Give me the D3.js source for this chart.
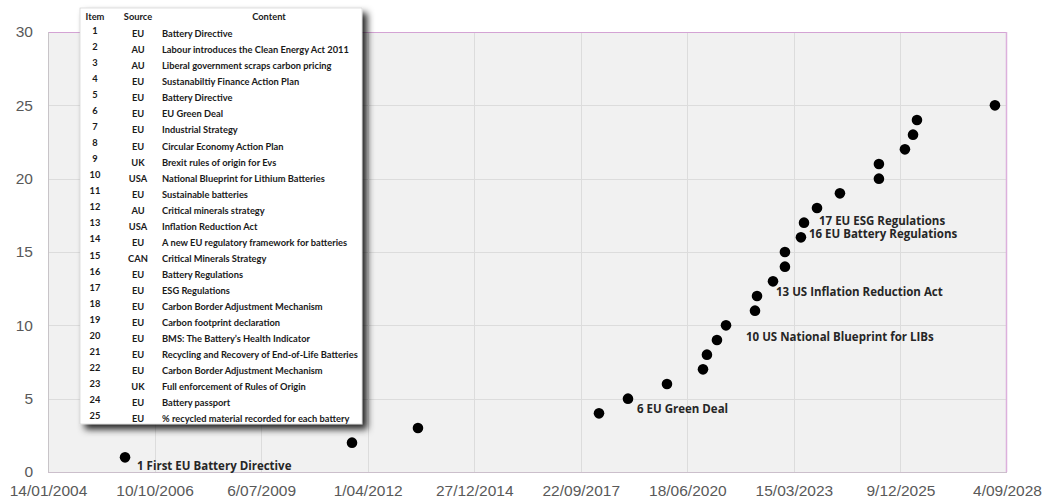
<!DOCTYPE html>
<html>
<head>
<meta charset="utf-8">
<script src="https://cdn.jsdelivr.net/npm/d3@7/dist/d3.min.js"></script>
<style>
  html, body { margin: 0; padding: 0; background: #ffffff; }
  svg { display: block; }
</style>
</head>
<body>
<svg id="chart" width="1047" height="500"></svg>
<script>
// Policy timeline: cumulative count of battery / climate policy events
const items = [1, 2, 3, 4, 5, 6, 7, 8, 9, 10, 11, 12, 13, 14, 15, 16, 17, 18, 19, 20, 21, 22, 23, 24, 25];
const sources = ["EU", "AU", "AU", "EU", "EU", "EU", "EU", "EU", "UK", "USA", "EU", "AU", "USA", "EU", "CAN",
                 "EU", "EU", "EU", "EU", "EU", "EU", "EU", "UK", "EU", "EU"];
const contents = [
  "Battery Directive",
  "Labour introduces the Clean Energy Act 2011",
  "Liberal government scraps carbon pricing",
  "Sustanabiltiy Finance Action Plan",
  "Battery Directive",
  "EU Green Deal",
  "Industrial Strategy",
  "Circular Economy Action Plan",
  "Brexit rules of origin for Evs",
  "National Blueprint for Lithium Batteries",
  "Sustainable batteries",
  "Critical minerals strategy",
  "Inflation Reduction Act",
  "A new EU regulatory framework for batteries",
  "Critical Minerals Strategy",
  "Battery Regulations",
  "ESG Regulations",
  "Carbon Border Adjustment Mechanism",
  "Carbon footprint declaration",
  "BMS: The Battery\u2019s Health Indicator",
  "Recycling and Recovery of End-of-Life Batteries",
  "Carbon Border Adjustment Mechanism",
  "Full enforcement of Rules of Origin",
  "Battery passport",
  "% recycled material recorded for each battery"
];
const eventDates = [
  "2006-01-06", "2011-11-06", "2013-07-17", "2018-03-12", "2018-12-09",
  "2019-12-10", "2020-11-12", "2020-12-19", "2021-03-23", "2021-06-16",
  "2022-03-15", "2022-04-03", "2022-08-31", "2022-12-21", "2022-12-21",
  "2023-05-20", "2023-06-18", "2023-10-18", "2024-05-20", "2025-05-21",
  "2025-05-21", "2026-01-20", "2026-04-06", "2026-05-13", "2028-05-14"
];
const eventCounts = [1, 2, 3, 4, 5, 6, 7, 8, 9, 10, 11, 12, 13, 14, 15, 16, 17, 18, 19, 20, 21, 22, 23, 24, 25];

const annotatedItems = [1, 6, 10, 13, 16, 17];
const annotationTexts = [
  "1 First EU Battery Directive",
  "6 EU Green Deal",
  "10 US National Blueprint for LIBs",
  "13 US Inflation Reduction Act",
  "16 EU Battery Regulations",
  "17 EU ESG Regulations"
];

const xTickLabels = ["14/01/2004", "10/10/2006", "6/07/2009", "1/04/2012", "27/12/2014",
                     "22/09/2017", "18/06/2020", "15/03/2023", "9/12/2025", "4/09/2028"];
const yTicks = [0, 5, 10, 15, 20, 25, 30];

// ---- layout ----
const plot = { left: 48, right: 1007, top: 32, bottom: 472 };
const parseTick = d3.utcParse("%d/%m/%Y");
const parseIso = d3.utcParse("%Y-%m-%d");
const tickDates = xTickLabels.map(parseTick);

const x = d3.scaleUtc()
  .domain([tickDates[0], tickDates[tickDates.length - 1]])
  .range([plot.left, plot.right]);
const y = d3.scaleLinear()
  .domain([0, 30])
  .range([plot.bottom, plot.top]);

const svg = d3.select("#chart");

// plot background
svg.append("rect")
  .attr("x", plot.left).attr("y", plot.top)
  .attr("width", plot.right - plot.left).attr("height", plot.bottom - plot.top)
  .attr("fill", "#f1f1f1");

// gridlines
const grid = svg.append("g").attr("stroke", "#dcdcdc").attr("stroke-width", 1);
grid.selectAll("line.v").data(tickDates.slice(1, -1)).join("line")
  .attr("x1", d => Math.round(x(d)) + 0.5).attr("x2", d => Math.round(x(d)) + 0.5)
  .attr("y1", plot.top).attr("y2", plot.bottom);
grid.selectAll("line.h").data(yTicks.slice(1, -1)).join("line")
  .attr("x1", plot.left).attr("x2", plot.right)
  .attr("y1", d => Math.round(y(d)) + 0.5).attr("y2", d => Math.round(y(d)) + 0.5);

// frame: grey left/bottom, mauve top/right
svg.append("line").attr("x1", plot.left).attr("x2", plot.right)
  .attr("y1", plot.top + 0.5).attr("y2", plot.top + 0.5)
  .attr("stroke", "#d4a3d4").attr("stroke-width", 1.2);
svg.append("line").attr("x1", plot.right - 0.5).attr("x2", plot.right - 0.5)
  .attr("y1", plot.top).attr("y2", plot.bottom)
  .attr("stroke", "#dcb0dc").attr("stroke-width", 1.5);
svg.append("line").attr("x1", plot.left + 0.5).attr("x2", plot.left + 0.5)
  .attr("y1", plot.top).attr("y2", plot.bottom)
  .attr("stroke", "#c8c4c8").attr("stroke-width", 1);
svg.append("line").attr("x1", plot.left).attr("x2", plot.right)
  .attr("y1", plot.bottom + 0.5).attr("y2", plot.bottom + 0.5)
  .attr("stroke", "#cbbfcb").attr("stroke-width", 1.2);

// axes
const axisFont = "'Liberation Sans', Arial, Helvetica, sans-serif";
const xAxis = d3.axisBottom(x)
  .tickValues(tickDates)
  .tickFormat((d, i) => xTickLabels[i])
  .tickSize(0).tickPadding(13);
svg.append("g")
  .attr("transform", `translate(0,${plot.bottom})`)
  .call(xAxis)
  .call(g => g.select(".domain").remove())
  .selectAll("text")
  .attr("fill", "#595959")
  .style("font-family", axisFont)
  .style("font-size", "15.5px");

const yAxis = d3.axisLeft(y).tickValues(yTicks).tickSize(0).tickPadding(15);
svg.append("g")
  .attr("transform", `translate(${plot.left},0)`)
  .call(yAxis)
  .call(g => g.select(".domain").remove())
  .selectAll("text")
  .attr("fill", "#595959")
  .style("font-family", axisFont)
  .style("font-size", "15.5px");

// points
const events = items.map((it, i) => ({
  item: it, date: parseIso(eventDates[i]), count: eventCounts[i]
}));
svg.append("g").selectAll("circle").data(events).join("circle")
  .attr("cx", d => x(d.date))
  .attr("cy", d => y(d.count))
  .attr("r", 5.3)
  .attr("fill", "#000");

// annotations (offset from each point in pixels)
const labelOffsets = { 1: [12, 9], 6: [-30, 25], 10: [20, 12], 13: [3, 11], 16: [8, -3], 17: [15, -2] };
const annotations = annotatedItems.map((it, i) => {
  const ev = events.find(e => e.item === it);
  return { ev, text: annotationTexts[i], off: labelOffsets[it] };
});
svg.append("g").selectAll("text").data(annotations).join("text")
  .attr("x", d => x(d.ev.date) + d.off[0])
  .attr("y", d => y(d.ev.count) + d.off[1])
  .attr("dy", "0.35em")
  .attr("fill", "#262626")
  .style("font-family", "'Open Sans', sans-serif")
  .style("font-weight", 700)
  .style("font-size", "11.5px")
  .text(d => d.text);

// event table
const defs = svg.append("defs");
const sh = defs.append("filter").attr("id", "tblShadow")
  .attr("x", "-10%").attr("y", "-10%").attr("width", "130%").attr("height", "130%");
sh.append("feDropShadow").attr("dx", 5).attr("dy", 5).attr("stdDeviation", 3.5)
  .attr("flood-color", "#000").attr("flood-opacity", 0.85);

const tbl = { x: 80, y: 8, w: 282, h: 416 };
const tg = svg.append("g");
tg.append("rect")
  .attr("x", tbl.x).attr("y", tbl.y).attr("width", tbl.w).attr("height", tbl.h)
  .attr("fill", "#ffffff").attr("stroke", "#c8c8c8").attr("stroke-width", 0.6)
  .attr("filter", "url(#tblShadow)");

const tblFont = "Lato, 'Open Sans', sans-serif";
const rowY = d3.scaleLinear().domain([0, 25]).range([17, 418]);
const header = tg.append("g")
  .style("font-family", tblFont).style("font-weight", 700).style("font-size", "9.3px")
  .attr("fill", "#1a1a1a");
header.append("text").attr("x", 95).attr("y", rowY(0)).attr("dy", "0.35em")
  .attr("text-anchor", "middle").text("Item");
header.append("text").attr("x", 138).attr("y", rowY(0)).attr("dy", "0.35em")
  .attr("text-anchor", "middle").text("Source");
header.append("text").attr("x", 269).attr("y", rowY(0)).attr("dy", "0.35em")
  .attr("text-anchor", "middle").text("Content");

const rows = tg.selectAll("g.row").data(items).join("g")
  .attr("class", "row")
  .attr("transform", d => `translate(0,${rowY(d)})`)
  .style("font-family", tblFont).style("font-weight", 700).style("font-size", "9.3px")
  .attr("fill", "#1a1a1a");
rows.append("text").attr("x", 95).attr("dy", "0.1em")
  .attr("text-anchor", "middle").text(d => d);
rows.append("text").attr("x", 138).attr("dy", "0.45em")
  .attr("text-anchor", "middle").text((d, i) => sources[i]);
rows.append("text").attr("x", 162).attr("dy", "0.45em")
  .text((d, i) => contents[i]);
</script>
</body>
</html>
